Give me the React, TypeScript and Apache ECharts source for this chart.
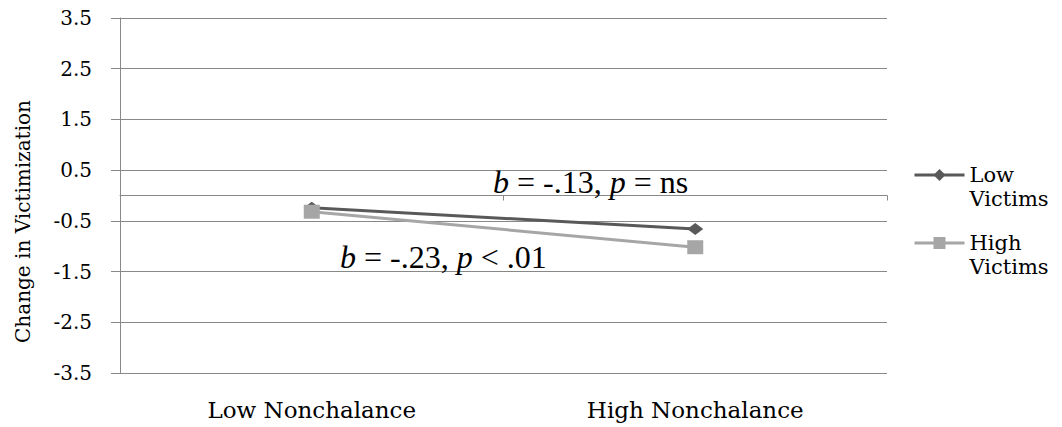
import React, { useEffect, useRef } from 'react';
import * as echarts from 'echarts';

// Categories on the x axis and the two moderator groups
const categories = ['Low Nonchalance', 'High Nonchalance'];
const seriesNames = ['Low Victims', 'High Victims'];
const lowVictims = [-0.24, -0.66];
const highVictims = [-0.32, -1.02];

// Value axis range and step
const yMin = -3.5;
const yMax = 3.5;
const yStep = 1;

// Simple-slope annotations ({i|...} renders italic)
const slopeNotes = ['{i|b} = -.13, {i|p} = ns', '{i|b} = -.23, {i|p} < .01'];

const GRID = '#888888';
const DARK = '#595959';
const LIGHT = '#a6a6a6';
const LABEL_FONT = 'DejaVu Serif';
const NOTE_FONT = 'Liberation Serif';

export default function App() {
  const ref = useRef<HTMLDivElement>(null);

  useEffect(() => {
    if (!ref.current) return;
    const chart = echarts.init(ref.current, undefined, { renderer: 'svg' });

    const note = (text: string, x: number, y: number) => ({
      type: 'text',
      x,
      y,
      style: {
        text,
        font: `32px ${NOTE_FONT}`,
        fill: '#000',
        verticalAlign: 'middle',
        rich: {
          i: { font: `italic 32px ${NOTE_FONT}`, fill: '#000' },
        },
      },
      z: 10,
    });

    const labelText = (size: number) => ({
      fontFamily: LABEL_FONT,
      fontSize: size,
      color: '#000',
    });

    chart.setOption({
      animation: false,
      backgroundColor: '#ffffff',
      textStyle: { fontFamily: LABEL_FONT },
      grid: { left: 120, right: 175, top: 18, bottom: 54, containLabel: false },
      legend: {
        orient: 'vertical',
        left: 908,
        top: 134,
        itemWidth: 50,
        itemHeight: 15,
        itemGap: -4,
        data: seriesNames,
        lineStyle: { width: 3 },
        // leading blank line keeps the first word level with the icon
        formatter: (name: string) => '\n' + name.replace(' ', '\n'),
        textStyle: { ...labelText(21), lineHeight: 24 },
      },
      xAxis: [
        {
          // zero line with boundary ticks
          type: 'category',
          data: categories,
          position: 'bottom',
          axisLine: { show: true, onZero: true, lineStyle: { color: GRID, width: 1 } },
          axisTick: { show: true, length: 5, lineStyle: { color: GRID } },
          axisLabel: { show: false },
          splitLine: { show: false },
        },
        {
          // category labels along the bottom
          type: 'category',
          data: categories,
          position: 'bottom',
          axisLine: { show: false, onZero: false },
          axisTick: { show: false },
          axisLabel: { show: true, margin: 25, ...labelText(23) },
          splitLine: { show: false },
        },
      ],
      yAxis: {
        type: 'value',
        min: yMin,
        max: yMax,
        interval: yStep,
        name: 'Change in Victimization',
        nameLocation: 'middle',
        nameGap: 87,
        nameTextStyle: { ...labelText(20), padding: [0, 52, 0, 0] },
        axisLine: { show: true, lineStyle: { color: GRID, width: 1 } },
        axisTick: { show: true, length: 9, lineStyle: { color: GRID } },
        axisLabel: {
          margin: 28,
          ...labelText(20),
          formatter: (v: number) => String(v),
        },
        splitLine: { show: true, lineStyle: { color: GRID, width: 1 } },
      },
      series: [
        {
          name: seriesNames[0],
          type: 'line',
          data: lowVictims,
          symbol: 'diamond',
          symbolSize: [16, 12],
          color: DARK,
          lineStyle: { color: DARK, width: 3 },
          itemStyle: { color: DARK },
        },
        {
          name: seriesNames[1],
          type: 'line',
          data: highVictims,
          symbol: 'rect',
          symbolSize: [16, 14],
          color: LIGHT,
          lineStyle: { color: LIGHT, width: 3 },
          itemStyle: { color: LIGHT },
        },
      ],
      graphic: [note(slopeNotes[0], 493, 182), note(slopeNotes[1], 340, 257)],
    });

    return () => chart.dispose();
  }, []);

  return (
    <div
      ref={ref}
      style={{ position: 'fixed', left: 0, top: 0, width: 1062, height: 427, background: '#fff' }}
    />
  );
}
